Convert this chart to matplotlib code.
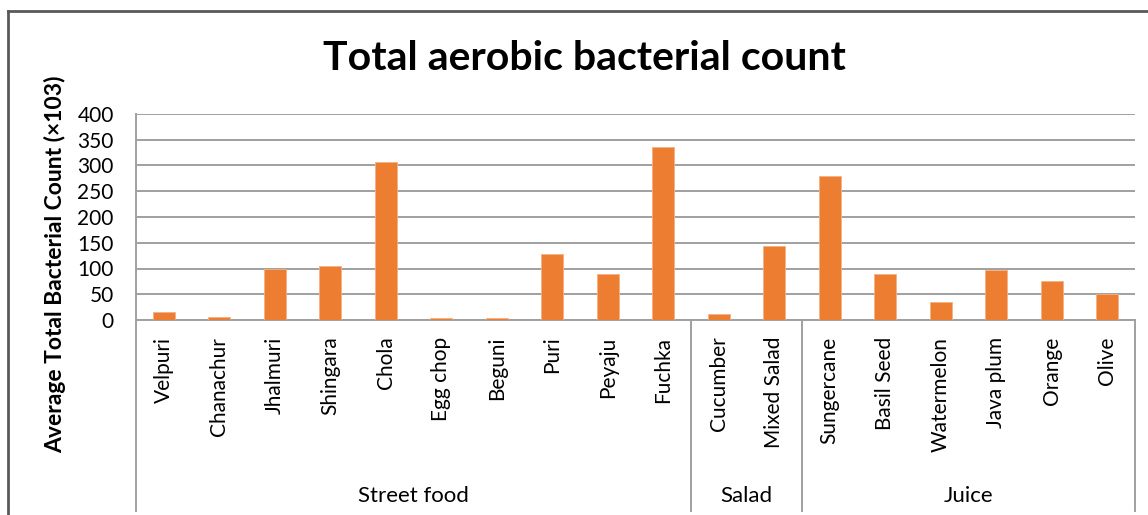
import matplotlib
matplotlib.use("Agg")
import matplotlib.pyplot as plt
from matplotlib.lines import Line2D
import matplotlib.transforms as mtransforms

categories = ["Velpuri", "Chanachur", "Jhalmuri", "Shingara", "Chola", "Egg chop",
              "Beguni", "Puri", "Peyaju", "Fuchka",
              "Cucumber", "Mixed Salad",
              "Sungercane", "Basil Seed", "Watermelon", "Java plum", "Orange", "Olive"]
values = [16, 5, 100, 104, 306, 3, 3, 129, 90, 336,
          11, 143,
          279, 90, 35, 97, 76, 50]
groups = ["Street food", "Salad", "Juice"]
group_sizes = [10, 2, 6]
yticks = [0, 50, 100, 150, 200, 250, 300, 350, 400]

plt.rcParams['font.family'] = ['Lato', 'DejaVu Sans']

W, H = 1148, 515
fig = plt.figure(figsize=(W / 100, H / 100), dpi=100)
ax = fig.add_axes([136 / W, 1 - 320 / H, (1135 - 136) / W, (320 - 114) / H])

x = list(range(len(categories)))
ax.bar(x, values, width=0.4, color="#ED7D31", edgecolor="#F4B183", linewidth=0.6, zorder=3)

ax.set_xlim(-0.5, len(categories) - 0.5)
ax.set_ylim(0, 400)
ax.set_yticks(yticks)
ax.set_yticklabels([str(v) for v in yticks], fontsize=15)
ax.set_xticks(x)
ax.set_xticklabels(categories, rotation=90, fontsize=15, va='top', ha='center')
ax.tick_params(axis='x', length=0, pad=12)
ax.tick_params(axis='y', length=0, pad=16)

ax.grid(axis='y', color="#A0A0A0", linewidth=1.4, zorder=0)
for s in ['top', 'right']:
    ax.spines[s].set_visible(False)
for s in ['left', 'bottom']:
    ax.spines[s].set_color("#A0A0A0")
    ax.spines[s].set_linewidth(1.4)

# group separators and labels
trans = mtransforms.blended_transform_factory(ax.transData, ax.transAxes)
bottom_ax = (320 - 511) / (320 - 114)
label_ax = (320 - 496) / (320 - 114)
start = -0.5
bounds = [start]
for g, n in zip(groups, group_sizes):
    end = start + n
    ax.text((start + end) / 2, label_ax, g, transform=trans, ha='center', va='center', fontsize=16)
    bounds.append(end)
    start = end
for b in bounds:
    ax.add_line(Line2D([b, b], [0, bottom_ax], transform=trans, color="#A0A0A0",
                       linewidth=1.4, clip_on=False))

fig.text(584 / W, 1 - 58 / H, "Total aerobic bacterial count", ha='center', va='center',
         fontsize=29.5, fontweight='bold')
fig.text(55 / W, 1 - 264 / H, "Average Total Bacterial Count (×103)", rotation=90,
         ha='center', va='center', fontsize=16.5, fontweight='bold')

# outer frame (top and left)
fig.add_artist(Line2D([8 / W, 1], [1 - 11 / H, 1 - 11 / H], transform=fig.transFigure,
                      color="#595959", linewidth=2))
fig.add_artist(Line2D([8 / W, 8 / W], [0, 1 - 11 / H], transform=fig.transFigure,
                      color="#595959", linewidth=2))

fig.savefig("out.png", dpi=100)
